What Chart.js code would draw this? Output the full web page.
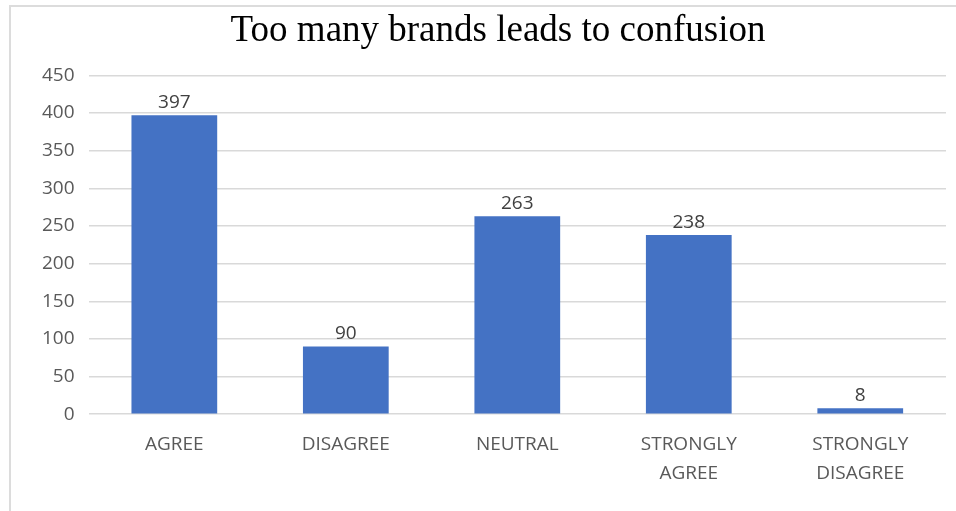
<!DOCTYPE html>
<html>
<head>
<meta charset="utf-8">
<script src="https://cdn.jsdelivr.net/npm/chart.js@4.4.0/dist/chart.umd.min.js"></script>
<style>
  body { margin: 0; background: #fff; }
  #frame {
    position: absolute; left: 9px; top: 5px;
    width: 947px; height: 506px;
    border-left: 2px solid #dcdcdc; border-top: 2px solid #dcdcdc;
    box-sizing: border-box;
  }
  canvas { display: block; }
</style>
</head>
<body>
<div id="frame"><canvas id="brandChart"></canvas></div>
<script>
// Survey responses: "Too many brands leads to confusion"
const categories = [['AGREE'], ['DISAGREE'], ['NEUTRAL'], ['STRONGLY', 'AGREE'], ['STRONGLY', 'DISAGREE']];
const responses = [397, 90, 263, 238, 8];
const yTicks = [0, 50, 100, 150, 200, 250, 300, 350, 400, 450];

const labelFont = "'Open Sans', 'DejaVu Sans', sans-serif";

// write each count just above its bar
const valueLabels = {
  id: 'valueLabels',
  afterDatasetsDraw(chart) {
    const ctx = chart.ctx;
    const meta = chart.getDatasetMeta(0);
    ctx.save();
    ctx.fillStyle = '#404040';
    ctx.font = '19px ' + labelFont;
    ctx.textAlign = 'center';
    ctx.textBaseline = 'bottom';
    meta.data.forEach((bar, i) => {
      ctx.fillText(responses[i], bar.x, bar.y - 3);
    });
    ctx.restore();
  }
};

// nudge the title so it centres over the plot rather than the whole canvas
const titleNudge = {
  id: 'titleNudge',
  afterLayout(chart) {
    if (chart.titleBlock) {
      chart.titleBlock.left += 11;
      chart.titleBlock.right += 11;
    }
  }
};

new Chart(document.getElementById('brandChart'), {
  type: 'bar',
  data: {
    labels: categories,
    datasets: [{
      data: responses,
      backgroundColor: '#4472c4',
      borderWidth: 0,
      barPercentage: 0.5,
      categoryPercentage: 1.0
    }]
  },
  options: {
    responsive: true,
    maintainAspectRatio: false,
    animation: false,
    layout: { padding: { left: 17, right: 10, top: 0, bottom: 15 } },
    plugins: {
      legend: { display: false },
      tooltip: { enabled: false },
      title: {
        display: true,
        text: 'Too many brands leads to confusion',
        color: '#000',
        font: { family: "'Liberation Serif', 'Times New Roman', serif", size: 37, weight: 'normal' },
        padding: { top: 2, bottom: 22 }
      }
    },
    scales: {
      x: {
        grid: { display: false },
        border: { display: false },
        ticks: {
          color: '#595959',
          font: { family: labelFont, size: 19, lineHeight: 1.52 },
          padding: 8,
          maxRotation: 0
        }
      },
      y: {
        min: 0,
        max: 450,
        afterBuildTicks(axis) {
          axis.ticks = yTicks.map(v => ({ value: v }));
        },
        grid: { color: '#d9d9d9', lineWidth: 1.5, drawTicks: false },
        border: { display: false },
        ticks: {
          color: '#595959',
          font: { family: labelFont, size: 19 },
          padding: 14
        }
      }
    }
  },
  plugins: [valueLabels, titleNudge]
});
</script>
</body>
</html>
